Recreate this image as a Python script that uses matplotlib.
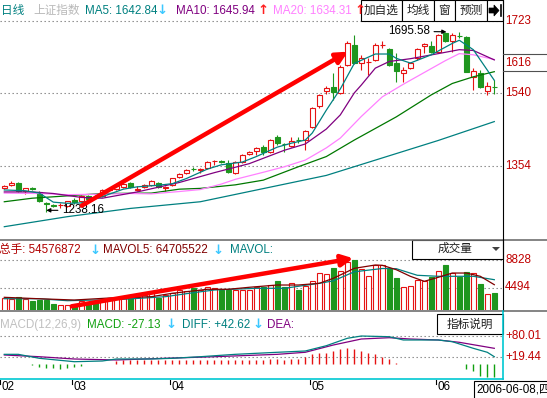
import matplotlib
matplotlib.use("Agg")
import matplotlib.pyplot as plt
from matplotlib.patches import Rectangle, Polygon
import numpy as np

plt.rcParams['font.family'] = ['Liberation Sans', 'Noto Sans CJK SC', 'DejaVu Sans']

# ---------------- data ----------------
opens = [1298.0, 1304.9, 1311.5, 1291.1, 1298.0, 1287.8, 1260.0, 1254.0, 1253.5, 1252.9,
         1268.0, 1264.1, 1277.0, 1276.0, 1277.6, 1293.0, 1295.4, 1301.3, 1311.5, 1294.0,
         1301.3, 1305.6, 1309.9, 1298.0, 1305.6, 1325.2, 1335.4, 1347.0, 1345.0, 1349.6,
         1365.5, 1366.0, 1362.4, 1335.4, 1364.9, 1384.5, 1392.9, 1401.6, 1390.4, 1427.0,
         1410.0, 1404.9, 1421.0, 1420.1, 1452.5, 1506.7, 1544.9, 1555.8, 1539.0, 1611.0,
         1661.9, 1616.9, 1618.0, 1623.7, 1661.0, 1651.0, 1615.3, 1591.4, 1602.6, 1628.1,
         1659.4, 1659.4, 1644.9, 1693.2, 1672.9, 1685.5, 1681.5, 1581.2, 1589.9, 1545.6,
         1555.0]
highs = [1305, 1316, 1313, 1299, 1300, 1290, 1263, 1258, 1260, 1266,
         1272, 1280, 1280, 1279, 1295, 1299, 1306, 1310, 1314, 1302,
         1308, 1318, 1312, 1303, 1324, 1337, 1346, 1351, 1348, 1366,
         1369, 1368, 1369, 1366, 1385, 1393, 1403, 1407, 1422, 1433,
         1412, 1428, 1427, 1446, 1503, 1537, 1558, 1589.9, 1610, 1672.9,
         1687.4, 1636.5, 1628.1, 1666, 1672.9, 1655, 1640.8, 1606.7, 1619, 1653.5,
         1667.8, 1672.9, 1690, 1695.58, 1691.7, 1695, 1684, 1602.6, 1598.3, 1568.5,
         1572.8]
lows = [1295, 1302, 1289, 1282.7, 1294, 1263, 1238.16, 1249, 1246, 1250,
        1258, 1262, 1268, 1271, 1275, 1290, 1293, 1299, 1298, 1290,
        1299, 1303, 1298, 1291, 1303, 1323, 1333, 1342, 1337, 1347,
        1357, 1362, 1337, 1333, 1362, 1382, 1382, 1382, 1388, 1407,
        1390, 1403, 1412, 1395, 1450, 1501, 1537, 1521.9, 1536, 1608,
        1613, 1598.3, 1585.6, 1621, 1653.5, 1608, 1567.8, 1568.5, 1600, 1623.7,
        1640.8, 1640.8, 1642, 1670, 1644.9, 1679.0, 1592, 1547.4, 1553, 1534.7,
        1537.2]
closes = [1303.1, 1311.5, 1291.1, 1297.2, 1296.5, 1265.7, 1258.5, 1252.5, 1254.5, 1264.1,
          1262.0, 1277.6, 1270.0, 1274.0, 1292.9, 1295.0, 1303.1, 1307.5, 1299.8, 1295.5,
          1305.6, 1315.8, 1299.8, 1299.5, 1322.7, 1333.6, 1343.8, 1345.5, 1346.3, 1364.2,
          1366.7, 1364.9, 1339.5, 1364.2, 1382.0, 1390.4, 1399.0, 1388.8, 1420.1, 1411.7,
          1409.2, 1418.4, 1420.1, 1443.8, 1500.8, 1534.7, 1551.7, 1543.1, 1606.7, 1667.8,
          1615.3, 1628.1, 1619.4, 1661.9, 1662.5, 1611.0, 1596.5, 1598.3, 1616.9, 1651.0,
          1664.5, 1644.9, 1687.4, 1672.9, 1687.4, 1684.8, 1594.0, 1596.5, 1555.8, 1557.6,
          1554.3]

ma5_idx = [0, 3, 5, 7, 9, 11, 14, 17, 19, 22, 24, 26, 29, 31, 34, 36, 39, 41, 43, 44,
           46, 48, 50, 53, 55, 56, 58, 61, 64, 65, 67, 69, 70]
ma5 = [1293, 1291, 1285, 1262, 1259, 1260, 1276, 1295, 1301, 1305, 1309, 1322, 1346, 1357,
       1364, 1378, 1402, 1412, 1420, 1438, 1496, 1550, 1615, 1639, 1639, 1628, 1616, 1637,
       1666, 1674, 1650, 1598, 1572]
ma10_idx = [0, 4, 7, 11, 14, 19, 25, 30, 35, 40, 43, 46, 48, 50, 51, 53, 55, 58, 62, 65, 67, 70]
ma10 = [1288, 1288, 1284, 1274, 1272, 1288, 1312, 1337, 1360, 1394, 1410, 1448, 1484, 1540,
        1560, 1603, 1620, 1627, 1640, 1650, 1648, 1624]
ma20_idx = [0, 5, 9, 13, 18, 21, 25, 28, 31, 33, 37, 40, 43, 46, 48, 51, 54, 57, 60, 63, 65, 67, 70]
ma20 = [1285, 1284, 1281, 1282, 1284, 1283, 1289, 1294, 1308, 1320, 1338, 1352, 1369, 1400,
        1425, 1480, 1530, 1562, 1592, 1622, 1640, 1637, 1625]
ma60_idx = [0, 4, 9, 14, 21, 25, 28, 33, 37, 42, 46, 50, 56, 61, 64, 67, 70]
ma60 = [1263, 1272, 1278, 1284, 1285, 1295, 1297, 1306, 1318, 1352, 1378, 1420, 1479, 1535,
        1564, 1581, 1594]
ma120_idx = [0, 9, 18, 28, 46, 62, 70]
ma120 = [1199.5, 1225, 1246, 1263, 1330, 1419, 1467]

volumes = [2820, 2661, 3059, 2661, 2342, 2501, 2501, 1864, 1784, 1784,
           1625, 2342, 2023, 2183, 2501, 2820, 2820, 2900, 3139, 3059,
           3298, 3777, 2900, 3298, 3617, 4095, 3936, 4414, 4175, 4574,
           4494, 4095, 4095, 4016, 4016, 4095, 4526, 4526, 4893, 5530,
           4526, 5179, 4095, 4733, 5530, 6773, 6646, 7602, 7092, 8559,
           8828, 7411, 6295, 8049, 8033, 7491, 6008, 4526, 4685, 5642,
           5578, 6120, 7076, 8128, 6805, 6120, 6917, 6805, 5052, 3458,
           3617]
mavol5_idx = [0, 5, 10, 15, 21, 24, 29, 32, 35, 39, 42, 45, 47, 50, 53, 54, 56, 58, 60,
              62, 64, 66, 68, 70]
mavol5 = [2930, 2700, 2500, 2820, 3030, 3570, 4210, 4210, 4530, 4890, 4890, 5160, 5960,
          7550, 8080, 8030, 7330, 6280, 5480, 6120, 6800, 6800, 6280, 4940]
mavol10_idx = [0, 5, 9, 17, 23, 27, 30, 36, 40, 45, 47, 50, 54, 56, 59, 62, 65, 67, 70]
mavol10 = [2710, 2700, 2390, 2610, 3030, 3665, 4095, 4366, 4366, 5163, 5550, 7000, 7520,
           7490, 6440, 6280, 6280, 6280, 5740]

diff_idx = [0, 2, 5, 10, 14, 16, 21, 24, 28, 33, 39, 43, 46, 49, 51, 55, 57, 62, 64, 67, 69, 70]
diff = [27.9, 27.9, 16.6, 6.9, 8.9, 14.6, 14.6, 16.6, 21.1, 27.9, 33.7, 37.4, 52.4, 73.5,
        80.0, 78.0, 68.7, 68.7, 63.8, 45.0, 33.7, 21.1]
dea_idx = [0, 5, 10, 16, 23, 30, 39, 43, 47, 51, 55, 58, 62, 65, 70]
dea = [26.0, 21.1, 14.6, 11.8, 16.6, 21.1, 27.9, 33.7, 54.4, 71.5, 75.2, 71.5, 68.7, 62.1, 45.0]
macd_hist = [-1, -1, -1, -1, -1.5, -7, -11, -12, -13, -11,
             -8, -5, -1, -1, -0.6, 1, 10, 11, 12, 12,
             11, 12, 12, 13, 12, 12, 12, 12, 12, 12,
             13, 12, 12, 12, 12, 12, 12, 12, 14, 14,
             12, 14, 16, 19, 28, 31, 33, 38, 43, 45,
             43, 38, 33, 28, 19, 14, 3, -1, -1, -1,
             -1, -1, -1, -1, -1, -1, -14, -19, -33, -36,
             -38]

month_idx = [-0.3, 10, 24, 44, 62]
month_labels = ["02", "03", "04", "05", "06"]
price_ticks = [1723, 1616, 1540, 1354]
price_grid = [1723, 1540, 1354]
vol_ticks = [8828, 4494]
macd_ticks = [80.01, 19.44]
high_idx, high_val = 63, 1695.58
low_idx, low_val = 6, 1238.16

# ---------------- figure ----------------
W, H = 547, 398
fig = plt.figure(figsize=(W / 100, H / 100), dpi=100)
fig.patch.set_facecolor('white')

RED = '#e61212'
GREEN = '#1e961e'
TEAL = '#008080'
PURPLE = '#800080'
PINK = '#ff80ff'
DGREEN = '#007800'
LBL = '#c00000'
CYAN = '#00c8d2'
ARR = '#3cc8ff'
FS = 8.4


def px_axes(x0, y0, x1, y1):
    a = fig.add_axes([x0 / W, 1 - y1 / H, (x1 - x0) / W, (y1 - y0) / H])
    a.set_axis_off()
    return a


XL = (-4.3 / 7, (503 - 4.3) / 7)
x = np.arange(len(closes))
o, h, l, c = (np.array(v, float) for v in (opens, highs, lows, closes))
up = c >= o
cols = np.where(up, RED, GREEN)

# main price panel
ax = px_axes(0, 0, 503, 240)
ax.set_xlim(*XL)
ax.set_ylim(1723 - 219 * 2.545, 1723 + 21 * 2.545)
for g in price_grid:
    ax.axhline(g, color='#808080', lw=0.8, ls=(0, (1.2, 2.4)), zorder=1)
ax.vlines(x, l, h, colors=cols, lw=0.8, zorder=3)
bot = np.minimum(o, c)
hei = np.maximum(np.abs(c - o), 0.05)
ax.bar(x[up], hei[up], bottom=bot[up], width=0.7, facecolor='white', edgecolor=RED, lw=0.8, zorder=4)
ax.bar(x[~up], hei[~up], bottom=bot[~up], width=0.7, facecolor=GREEN, edgecolor=GREEN, lw=0.8, zorder=4)
for idx, vals, col in ((ma120_idx, ma120, TEAL), (ma60_idx, ma60, DGREEN), (ma20_idx, ma20, PINK),
                       (ma10_idx, ma10, PURPLE), (ma5_idx, ma5, TEAL)):
    ax.plot(idx, vals, color=col, lw=0.9, zorder=5)
ax.annotate(f"{high_val:.2f}", xy=(high_idx + 0.15, high_val), xytext=(high_idx - 2.2, high_val + 1),
            ha='right', va='center', fontsize=FS, color='black', zorder=7,
            arrowprops=dict(arrowstyle='-|>', color='black', lw=0.8, mutation_scale=6, shrinkA=1, shrinkB=0))
ax.annotate(f"{low_val:.2f}", xy=(low_idx, low_val + 3), xytext=(low_idx + 2.25, low_val + 3),
            ha='left', va='center', fontsize=FS, color='black', zorder=7,
            arrowprops=dict(arrowstyle='-|>', color='black', lw=0.8, mutation_scale=6, shrinkA=1, shrinkB=0))
ax.annotate('', xy=(49.1, 1645), xytext=(11.06, 1253),
            arrowprops=dict(arrowstyle='-|>', color='#ff0000', lw=3.2, mutation_scale=17, shrinkA=0, shrinkB=0),
            zorder=8)
for tk in price_ticks:
    ax.text(505 / 503, tk, str(tk), transform=ax.get_yaxis_transform(), ha='left', va='center',
            fontsize=FS, color=LBL, clip_on=False)

# volume panel
av = px_axes(0, 240, 503, 310)
av.set_xlim(*XL)
av.set_ylim(4494 - 22.5 * 159.4, 4494 + 47.5 * 159.4)
for g in vol_ticks:
    av.axhline(g, color='#808080', lw=0.8, ls=(0, (1.2, 2.4)), zorder=1)
vv = np.array(volumes, float)
av.bar(x[up], vv[up], width=0.68, facecolor='white', edgecolor=RED, lw=0.8, zorder=3)
av.bar(x[~up], vv[~up], width=0.68, facecolor=GREEN, edgecolor=GREEN, lw=0.8, zorder=3)
av.plot(mavol10_idx, mavol10, color=TEAL, lw=0.9, zorder=4)
av.plot(mavol5_idx, mavol5, color='#800000', lw=0.9, zorder=4)
av.annotate('', xy=(49.86, 9150), xytext=(9.63, 1500),
            arrowprops=dict(arrowstyle='-|>', color='#ff0000', lw=3.2, mutation_scale=17, shrinkA=0, shrinkB=0),
            zorder=8)
for tk in vol_ticks:
    av.text(505 / 503, tk, str(tk), transform=av.get_yaxis_transform(), ha='left', va='center',
            fontsize=FS, color=LBL, clip_on=False)

# MACD panel
am = px_axes(0, 311, 503, 379)
am.set_xlim(*XL)
am.set_ylim(19.44 - 21.7 * 2.845, 19.44 + 46.3 * 2.845)
for g in macd_ticks:
    am.axhline(g, color='#808080', lw=0.8, ls=(0, (1.2, 2.4)), zorder=1)
mh = np.array(macd_hist, float)
am.vlines(x, 0, mh, colors=np.where(mh >= 0, RED, '#10a010'), lw=1.0, zorder=3)
am.plot(dea_idx, dea, color=PURPLE, lw=0.9, zorder=4)
am.plot(diff_idx, diff, color=TEAL, lw=0.9, zorder=4)
for tk in macd_ticks:
    am.text(505 / 503, tk, f"+{tk:.2f}", transform=am.get_yaxis_transform(), ha='left', va='center',
            fontsize=FS, color=LBL, clip_on=False)
# month labels
for mi, ml in zip(month_idx, month_labels):
    am.plot([mi - 0.3, mi - 0.3], [-0.02, -0.08], transform=am.get_xaxis_transform(),
            color='black', lw=0.8, clip_on=False)
    am.text(mi - 0.15, -0.125, ml, transform=am.get_xaxis_transform(), ha='left', va='center',
            fontsize=FS, color='black', clip_on=False)

# ---------------- overlay in pixel coordinates ----------------
ov = fig.add_axes([0, 0, 1, 1])
ov.set_xlim(0, W)
ov.set_ylim(H, 0)
ov.set_axis_off()
ov.patch.set_visible(False)
ov.set_zorder(10)


def t(xp, yp, s, col, **kw):
    ov.text(xp, yp, s, ha=kw.pop('ha', 'left'), va='center', fontsize=kw.pop('fs', FS), color=col, **kw)


def arrow_mark(xp, yp, col, down=True):
    # small bold arrow glyph as in the header
    ov.text(xp, yp, "↓" if down else "↑", ha='left', va='center', fontsize=9.5, color=col,
            family='DejaVu Sans', fontweight='bold')


# frame lines
ov.plot([0, W], [239.5, 239.5], color='#707070', lw=1.2)
ov.plot([0, W], [310.5, 310.5], color='#707070', lw=1.2)
ov.plot([503, 503], [0, 311], color='black', lw=0.8)
ov.plot([503, 503], [311, 379], color=CYAN, lw=1.2)
ov.plot([0, 503], [379, 379], color=CYAN, lw=1.2)
ov.plot([503, W], [54, 54], color='#505050', lw=0.8)
ov.plot([503, W], [71, 71], color='#505050', lw=0.8)

# header main
t(1, 11, "日线", TEAL)
t(33, 11, "上证指数", '#b8b8b8')
t(85, 11, "MA5: 1642.84", TEAL)
arrow_mark(156, 11, ARR, True)
t(176, 11, "MA10: 1645.94", PURPLE)
arrow_mark(257, 11, '#ff2020', False)
t(273, 11, "MA20: 1634.31", PINK)
arrow_mark(354, 11, '#ff2020', False)
for (x0, x1, s) in ((361, 402, "加自选"), (402, 433.5, "均线"), (433.5, 455, "窗"), (455, 487, "预测"), (487, 503, "")):
    ov.add_patch(Rectangle((x0, 0), x1 - x0, 21, facecolor='white', edgecolor='black', lw=0.8))
    if s:
        t((x0 + x1) / 2, 11, s, '#202020', ha='center')
ov.add_patch(Polygon([[489, 8], [494, 8], [494, 5], [499, 10.5], [494, 16], [494, 13], [489, 13]],
                     closed=True, facecolor='black', edgecolor='black', lw=0.5))
ov.plot([500.5, 500.5], [5, 16], color='black', lw=1.2)

# header volume
t(-1, 250, "总手: 54576872", '#b00000')
arrow_mark(89, 250, ARR, True)
t(103, 250, "MAVOL5: 64705522", '#800000')
arrow_mark(212, 250, ARR, True)
t(230, 250, "MAVOL:", TEAL)
ov.add_patch(Rectangle((412, 239.5), 91, 19, facecolor='white', edgecolor='black', lw=0.8))
t(455, 249, "成交量", '#202020', ha='center')
ov.add_patch(Polygon([[492, 247], [500, 247], [496, 251]], closed=True, facecolor='#404040', edgecolor='none'))

# header MACD
t(0, 325, "MACD(12,26,9)", '#c0c0c0')
t(87, 325, "MACD: -27.13", '#10a010')
arrow_mark(165, 325, ARR, True)
t(182, 325, "DIFF: +42.62", TEAL)
arrow_mark(252, 325, ARR, True)
t(267, 325, "DEA:", PURPLE)
ov.add_patch(Rectangle((437, 314), 66, 20, facecolor='white', edgecolor='black', lw=0.8))
t(470, 324.5, "指标说明", '#202020', ha='center')

# date box
ov.add_patch(Rectangle((473.5, 380.5), 80, 20, facecolor='white', edgecolor='black', lw=0.8))
t(476, 389, "2006-06-08,四", 'black')

fig.savefig("out.png", dpi=100, facecolor='white')
